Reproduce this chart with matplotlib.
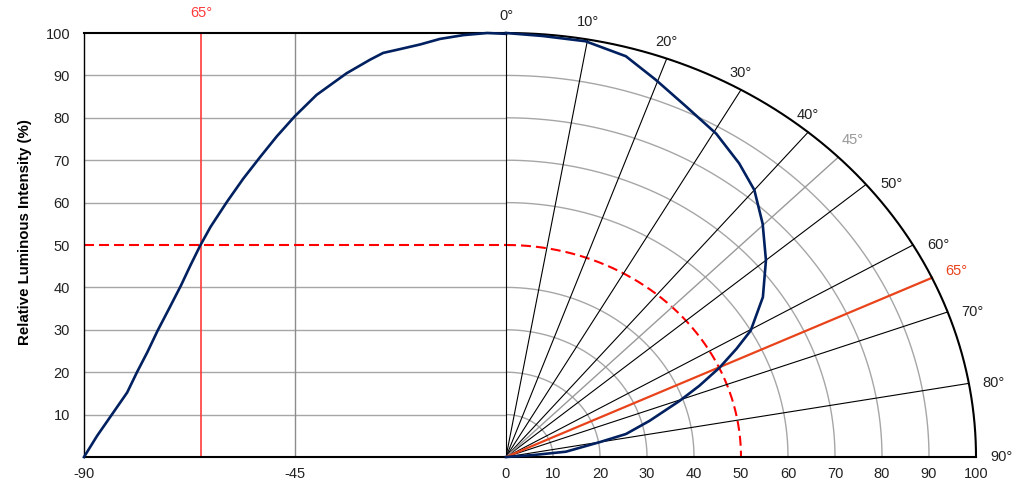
# Relative luminous intensity: cartesian view (left) and polar view (right)

import numpy as np
import matplotlib.pyplot as plt

plt.rcParams['font.family'] = ['Liberation Sans', 'DejaVu Sans']
plt.rcParams['axes.unicode_minus'] = False

# Data:

cart_angle = [-90, -87.2, -84.0, -80.8, -78.7, -76.5, -74.3, -71.9, -69.3,
              -67.3, -65.2, -63.0, -59.5, -56.0, -52.4, -48.9, -45.1, -40.4,
              -34.0, -29.0, -26.2, -22.6, -18.3, -14.1, -9.1, -4, 0]
cart_intensity = [0, 5.0, 10.1, 15.2, 20.0, 24.7, 29.8, 34.9, 40.5,
                  45.2, 49.9, 54.3, 60.2, 65.7, 70.8, 75.6, 80.3, 85.4,
                  90.5, 93.7, 95.3, 96.2, 97.3, 98.6, 99.5, 100, 99.8]

polar_angle = [0, 4.5, 9.8, 15.1, 19.7, 24.9, 30.4, 35.6, 40, 44.8, 50, 55.4,
               60.2, 62.5, 65.1, 67.8, 70.3, 74.4, 78, 80, 84.4, 85.5, 90]
polar_radius = [100, 99.6, 99.5, 97.9, 94.5, 91.1, 88.4, 85.2, 82.2, 77.5,
                72.2, 66.4, 60, 55.3, 50.1, 44.4, 39.2, 31.7, 26.1, 20.3,
                12.8, 5.7, 0]

grid_levels = [10, 20, 30, 40, 60, 70, 80, 90]
half_level = 50
spoke_angles = [10, 20, 30, 40, 50, 60, 70, 80]
beam_angle = 65
label_angles = [0, 10, 20, 30, 40, 45, 50, 60, 65, 70, 80, 90]

left_xticks = [-90, -45]
right_xticks = [0, 10, 20, 30, 40, 50, 60, 70, 80, 90, 100]
yticks = [10, 20, 30, 40, 50, 60, 70, 80, 90, 100]

navy = '#002060'
grid_grey = '#a6a6a6'
red = '#ff0000'
beam_red = '#e8431a'
text_col = '#222222'
fs = 10.5
dash = (0, (4.8, 2.4))

fig = plt.figure(figsize=(10.33, 4.86), dpi=100)
ax1 = fig.add_axes([84 / 1033, 29 / 486, 422 / 1033, 424 / 486])
ax2 = fig.add_axes([506 / 1033, 29 / 486, 470 / 1033, 424 / 486])

# Left: cartesian part

for lv in grid_levels:
    ax1.axhline(lv, color=grid_grey, lw=1, zorder=1)
ax1.axvline(-45, color='#8c8c8c', lw=1, zorder=1)
ax1.axhline(half_level, color=red, lw=1.5, ls=dash, zorder=2)
ax1.axvline(-beam_angle, color='#ff3b3b', lw=1.2, zorder=2)
ax1.plot(cart_angle, cart_intensity, color=navy, lw=1.9, zorder=3,
         clip_on=False, solid_joinstyle='round')
ax1.text(-beam_angle, 103, '65°', color='#ff3b3b', ha='center',
         va='bottom', fontsize=fs)

ax1.set_xlim(-90, 0)
ax1.set_ylim(0, 100)
ax1.set_xticks(left_xticks)
ax1.set_yticks(yticks)
ax1.tick_params(length=0, labelsize=fs, labelcolor=text_col)
ax1.tick_params(axis='x', pad=7)
ax1.tick_params(axis='y', pad=10)
ax1.spines['right'].set_visible(False)
ax1.spines['top'].set_linewidth(1.5)
ax1.spines['bottom'].set_linewidth(1.5)
ax1.spines['left'].set_linewidth(1)

# Right: polar part drawn in x/y coordinates

t = np.radians(np.linspace(0, 90, 300))
for lv in grid_levels:
    ax2.plot(lv * np.sin(t), lv * np.cos(t), color=grid_grey, lw=1, zorder=1)
ax2.plot(half_level * np.sin(t), half_level * np.cos(t), color=red,
         lw=1.5, ls=dash, zorder=2)

for a in spoke_angles:
    r = np.radians(a)
    ax2.plot([0, 100 * np.sin(r)], [0, 100 * np.cos(r)], color='black',
             lw=0.8, zorder=2)
ax2.plot([0, 0], [0, 100], color='black', lw=0.8, zorder=2, clip_on=False)
ax2.plot([0, 100 * np.sin(np.radians(45))], [0, 100 * np.cos(np.radians(45))],
         color='#999999', lw=1, zorder=2)
ax2.plot([0, 100 * np.sin(np.radians(beam_angle))],
         [0, 100 * np.cos(np.radians(beam_angle))],
         color=beam_red, lw=1.6, zorder=3)

ax2.plot(100 * np.sin(t), 100 * np.cos(t), color='black', lw=1.5,
         zorder=3, clip_on=False)

pa = np.radians(polar_angle)
pr = np.array(polar_radius)
ax2.plot(pr * np.sin(pa), pr * np.cos(pa), color=navy, lw=1.9, zorder=4,
         clip_on=False, solid_joinstyle='round')

for a in label_angles:
    r = np.radians(a)
    xy = (100 * np.sin(r), 100 * np.cos(r))
    colour = text_col
    if a == 45:
        colour = '#999999'
    if a == beam_angle:
        colour = beam_red
    if a < 45:
        ax2.annotate(f'{a}°', xy, xytext=(0, 10), textcoords='offset pixels',
                     ha='center', va='bottom', fontsize=fs, color=colour)
    elif a == 45:
        ax2.annotate(f'{a}°', xy, xytext=(3, 10), textcoords='offset pixels',
                     ha='left', va='bottom', fontsize=fs, color=colour)
    elif a == beam_angle:
        ax2.annotate(f'{a}°', xy, xytext=(13, 7), textcoords='offset pixels',
                     ha='left', va='center', fontsize=fs, color=colour)
    else:
        ax2.annotate(f'{a}°', xy, xytext=(14, 0), textcoords='offset pixels',
                     ha='left', va='center', fontsize=fs, color=colour)

ax2.set_xlim(0, 100)
ax2.set_ylim(0, 100)
ax2.set_xticks(right_xticks)
ax2.set_yticks([])
ax2.tick_params(length=0, labelsize=fs, labelcolor=text_col, pad=7)
for side in ['top', 'right', 'left']:
    ax2.spines[side].set_visible(False)
ax2.spines['bottom'].set_linewidth(1.5)
ax2.patch.set_alpha(0)

fig.text(25 / 1033, 1 - 232 / 486, 'Relative Luminous Intensity (%)',
         rotation=90, fontweight='bold', fontsize=10.8, ha='center',
         va='center')

plt.savefig('out.png', dpi=100)
